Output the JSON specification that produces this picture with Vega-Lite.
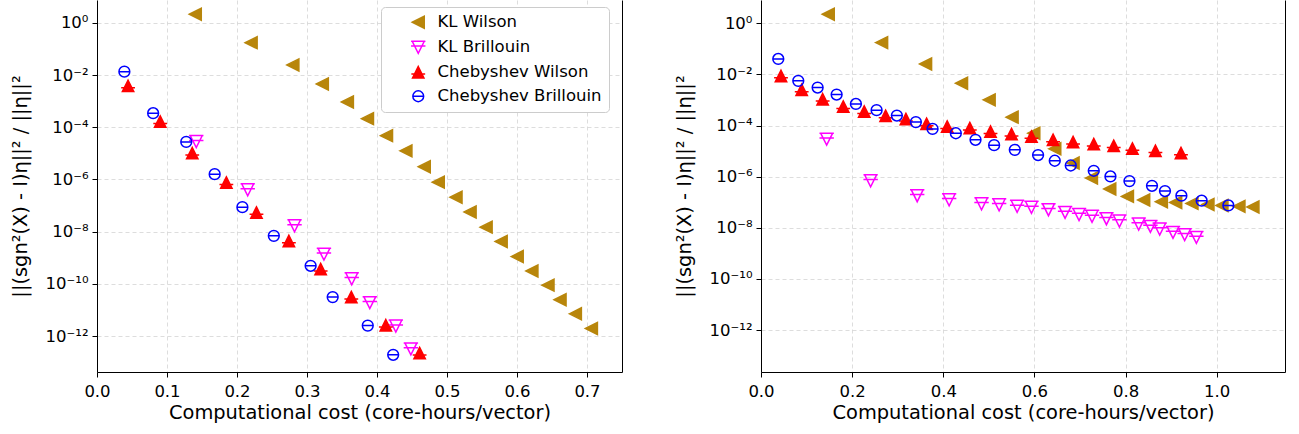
{
  "$schema": "https://vega.github.io/schema/vega-lite/v6.json",
  "background": "white",
  "padding": {"left": 10, "top": 0, "right": 5, "bottom": 5},
  "config": {
    "view": {"stroke": null},
    "font": "DejaVu Sans",
    "axis": {
      "domainColor": "black", "domainWidth": 1, "tickColor": "black", "tickWidth": 1, "tickSize": 5,
      "labelColor": "black", "labelFont": "DejaVu Sans", "labelFontSize": 16.5, "labelPadding": 4,
      "titleColor": "black", "titleFont": "DejaVu Sans", "titleFontSize": 19.4, "titleFontWeight": "normal",
      "gridColor": "#d4d4d4", "gridDash": [4, 3], "gridWidth": 0.8
    }
  },
  "datasets": {
    "left": [
      {"series": "KL Wilson", "cost": 0.1404, "error": 2.15},
      {"series": "KL Wilson", "cost": 0.2202, "error": 0.176},
      {"series": "KL Wilson", "cost": 0.2798, "error": 0.0246},
      {"series": "KL Wilson", "cost": 0.3219, "error": 0.0046},
      {"series": "KL Wilson", "cost": 0.3577, "error": 9.4e-4},
      {"series": "KL Wilson", "cost": 0.3864, "error": 2.15e-4},
      {"series": "KL Wilson", "cost": 0.4136, "error": 4.8e-5},
      {"series": "KL Wilson", "cost": 0.4413, "error": 1.25e-5},
      {"series": "KL Wilson", "cost": 0.4675, "error": 3.1e-6},
      {"series": "KL Wilson", "cost": 0.4875, "error": 7.9e-7},
      {"series": "KL Wilson", "cost": 0.5129, "error": 2.1e-7},
      {"series": "KL Wilson", "cost": 0.533, "error": 5.7e-8},
      {"series": "KL Wilson", "cost": 0.5559, "error": 1.49e-8},
      {"series": "KL Wilson", "cost": 0.5774, "error": 4.2e-9},
      {"series": "KL Wilson", "cost": 0.6003, "error": 1.11e-9},
      {"series": "KL Wilson", "cost": 0.6213, "error": 3.1e-10},
      {"series": "KL Wilson", "cost": 0.6443, "error": 8.9e-11},
      {"series": "KL Wilson", "cost": 0.6615, "error": 2.45e-11},
      {"series": "KL Wilson", "cost": 0.6834, "error": 7.1e-12},
      {"series": "KL Wilson", "cost": 0.7063, "error": 1.94e-12},
      {"series": "KL Brillouin", "cost": 0.1418, "error": 2.83e-5},
      {"series": "KL Brillouin", "cost": 0.2153, "error": 4.0e-7},
      {"series": "KL Brillouin", "cost": 0.2822, "error": 1.67e-8},
      {"series": "KL Brillouin", "cost": 0.3242, "error": 1.37e-9},
      {"series": "KL Brillouin", "cost": 0.3639, "error": 1.56e-10},
      {"series": "KL Brillouin", "cost": 0.3897, "error": 1.9e-11},
      {"series": "KL Brillouin", "cost": 0.4269, "error": 2.4e-12},
      {"series": "KL Brillouin", "cost": 0.4484, "error": 3.2e-13},
      {"series": "Chebyshev Wilson", "cost": 0.0444, "error": 3.86e-3},
      {"series": "Chebyshev Wilson", "cost": 0.0903, "error": 1.65e-4},
      {"series": "Chebyshev Wilson", "cost": 0.1361, "error": 1.02e-5},
      {"series": "Chebyshev Wilson", "cost": 0.1848, "error": 7.6e-7},
      {"series": "Chebyshev Wilson", "cost": 0.2278, "error": 5.4e-8},
      {"series": "Chebyshev Wilson", "cost": 0.2741, "error": 4.4e-9},
      {"series": "Chebyshev Wilson", "cost": 0.3195, "error": 3.66e-10},
      {"series": "Chebyshev Wilson", "cost": 0.3633, "error": 3.1e-11},
      {"series": "Chebyshev Wilson", "cost": 0.4126, "error": 2.6e-12},
      {"series": "Chebyshev Wilson", "cost": 0.4609, "error": 2.2e-13},
      {"series": "Chebyshev Brillouin", "cost": 0.0391, "error": 0.0136},
      {"series": "Chebyshev Brillouin", "cost": 0.0802, "error": 3.47e-4},
      {"series": "Chebyshev Brillouin", "cost": 0.1275, "error": 2.76e-5},
      {"series": "Chebyshev Brillouin", "cost": 0.1681, "error": 1.6e-6},
      {"series": "Chebyshev Brillouin", "cost": 0.2077, "error": 8.7e-8},
      {"series": "Chebyshev Brillouin", "cost": 0.2526, "error": 6.9e-9},
      {"series": "Chebyshev Brillouin", "cost": 0.3052, "error": 4.9e-10},
      {"series": "Chebyshev Brillouin", "cost": 0.3367, "error": 3.1e-11},
      {"series": "Chebyshev Brillouin", "cost": 0.3868, "error": 2.5e-12},
      {"series": "Chebyshev Brillouin", "cost": 0.4231, "error": 1.9e-13}
    ],
    "right": [
      {"series": "KL Wilson", "cost": 0.1476, "error": 2.25},
      {"series": "KL Wilson", "cost": 0.2647, "error": 0.175},
      {"series": "KL Wilson", "cost": 0.3612, "error": 0.0257},
      {"series": "KL Wilson", "cost": 0.4401, "error": 4.5e-3},
      {"series": "KL Wilson", "cost": 0.5007, "error": 1.01e-3},
      {"series": "KL Wilson", "cost": 0.5511, "error": 2.13e-4},
      {"series": "KL Wilson", "cost": 0.5987, "error": 5.0e-5},
      {"series": "KL Wilson", "cost": 0.6447, "error": 1.23e-5},
      {"series": "KL Wilson", "cost": 0.6849, "error": 3.4e-6},
      {"series": "KL Wilson", "cost": 0.7252, "error": 8.8e-7},
      {"series": "KL Wilson", "cost": 0.7654, "error": 3.3e-7},
      {"series": "KL Wilson", "cost": 0.8042, "error": 1.69e-7},
      {"series": "KL Wilson", "cost": 0.8399, "error": 1.22e-7},
      {"series": "KL Wilson", "cost": 0.8787, "error": 1.05e-7},
      {"series": "KL Wilson", "cost": 0.9101, "error": 9.8e-8},
      {"series": "KL Wilson", "cost": 0.9458, "error": 9.0e-8},
      {"series": "KL Wilson", "cost": 0.9809, "error": 8.2e-8},
      {"series": "KL Wilson", "cost": 1.0116, "error": 7.5e-8},
      {"series": "KL Wilson", "cost": 1.0489, "error": 6.9e-8},
      {"series": "KL Wilson", "cost": 1.0796, "error": 6.5e-8},
      {"series": "KL Brillouin", "cost": 0.1441, "error": 2.94e-5},
      {"series": "KL Brillouin", "cost": 0.2406, "error": 6.9e-7},
      {"series": "KL Brillouin", "cost": 0.3428, "error": 1.8e-7},
      {"series": "KL Brillouin", "cost": 0.4129, "error": 1.25e-7},
      {"series": "KL Brillouin", "cost": 0.484, "error": 8.7e-8},
      {"series": "KL Brillouin", "cost": 0.5226, "error": 8.0e-8},
      {"series": "KL Brillouin", "cost": 0.5621, "error": 6.9e-8},
      {"series": "KL Brillouin", "cost": 0.5936, "error": 6.3e-8},
      {"series": "KL Brillouin", "cost": 0.6309, "error": 5.1e-8},
      {"series": "KL Brillouin", "cost": 0.6673, "error": 4.0e-8},
      {"series": "KL Brillouin", "cost": 0.698, "error": 3.3e-8},
      {"series": "KL Brillouin", "cost": 0.7265, "error": 2.8e-8},
      {"series": "KL Brillouin", "cost": 0.7581, "error": 2.27e-8},
      {"series": "KL Brillouin", "cost": 0.7866, "error": 1.85e-8},
      {"series": "KL Brillouin", "cost": 0.8289, "error": 1.41e-8},
      {"series": "KL Brillouin", "cost": 0.8546, "error": 1.13e-8},
      {"series": "KL Brillouin", "cost": 0.875, "error": 9.0e-9},
      {"series": "KL Brillouin", "cost": 0.9042, "error": 6.6e-9},
      {"series": "KL Brillouin", "cost": 0.9298, "error": 5.4e-9},
      {"series": "KL Brillouin", "cost": 0.9555, "error": 4.2e-9},
      {"series": "Chebyshev Wilson", "cost": 0.0439, "error": 8.7e-3},
      {"series": "Chebyshev Wilson", "cost": 0.0893, "error": 2.48e-3},
      {"series": "Chebyshev Wilson", "cost": 0.1353, "error": 1.07e-3},
      {"series": "Chebyshev Wilson", "cost": 0.1805, "error": 5.5e-4},
      {"series": "Chebyshev Wilson", "cost": 0.2265, "error": 3.5e-4},
      {"series": "Chebyshev Wilson", "cost": 0.2735, "error": 2.39e-4},
      {"series": "Chebyshev Wilson", "cost": 0.318, "error": 1.78e-4},
      {"series": "Chebyshev Wilson", "cost": 0.3634, "error": 1.16e-4},
      {"series": "Chebyshev Wilson", "cost": 0.4086, "error": 9.1e-5},
      {"series": "Chebyshev Wilson", "cost": 0.4583, "error": 7.9e-5},
      {"series": "Chebyshev Wilson", "cost": 0.5037, "error": 5.8e-5},
      {"series": "Chebyshev Wilson", "cost": 0.5498, "error": 4.6e-5},
      {"series": "Chebyshev Wilson", "cost": 0.5936, "error": 3.7e-5},
      {"series": "Chebyshev Wilson", "cost": 0.641, "error": 2.76e-5},
      {"series": "Chebyshev Wilson", "cost": 0.6849, "error": 2.25e-5},
      {"series": "Chebyshev Wilson", "cost": 0.7303, "error": 1.88e-5},
      {"series": "Chebyshev Wilson", "cost": 0.7741, "error": 1.61e-5},
      {"series": "Chebyshev Wilson", "cost": 0.8151, "error": 1.26e-5},
      {"series": "Chebyshev Wilson", "cost": 0.8656, "error": 1.03e-5},
      {"series": "Chebyshev Wilson", "cost": 0.9217, "error": 8.4e-6},
      {"series": "Chebyshev Brillouin", "cost": 0.0379, "error": 0.0403},
      {"series": "Chebyshev Brillouin", "cost": 0.0818, "error": 5.6e-3},
      {"series": "Chebyshev Brillouin", "cost": 0.1243, "error": 3.05e-3},
      {"series": "Chebyshev Brillouin", "cost": 0.166, "error": 1.63e-3},
      {"series": "Chebyshev Brillouin", "cost": 0.2083, "error": 7.0e-4},
      {"series": "Chebyshev Brillouin", "cost": 0.2537, "error": 4.0e-4},
      {"series": "Chebyshev Brillouin", "cost": 0.2982, "error": 2.46e-4},
      {"series": "Chebyshev Brillouin", "cost": 0.3399, "error": 1.36e-4},
      {"series": "Chebyshev Brillouin", "cost": 0.3765, "error": 7.4e-5},
      {"series": "Chebyshev Brillouin", "cost": 0.4276, "error": 5.0e-5},
      {"series": "Chebyshev Brillouin", "cost": 0.4708, "error": 2.76e-5},
      {"series": "Chebyshev Brillouin", "cost": 0.5116, "error": 1.71e-5},
      {"series": "Chebyshev Brillouin", "cost": 0.557, "error": 1.12e-5},
      {"series": "Chebyshev Brillouin", "cost": 0.6081, "error": 7.0e-6},
      {"series": "Chebyshev Brillouin", "cost": 0.6447, "error": 4.2e-6},
      {"series": "Chebyshev Brillouin", "cost": 0.6798, "error": 2.74e-6},
      {"series": "Chebyshev Brillouin", "cost": 0.7303, "error": 1.7e-6},
      {"series": "Chebyshev Brillouin", "cost": 0.7669, "error": 1.02e-6},
      {"series": "Chebyshev Brillouin", "cost": 0.8086, "error": 6.7e-7},
      {"series": "Chebyshev Brillouin", "cost": 0.8581, "error": 4.4e-7},
      {"series": "Chebyshev Brillouin", "cost": 0.8866, "error": 2.74e-7},
      {"series": "Chebyshev Brillouin", "cost": 0.9226, "error": 1.8e-7},
      {"series": "Chebyshev Brillouin", "cost": 0.9671, "error": 1.15e-7},
      {"series": "Chebyshev Brillouin", "cost": 1.0257, "error": 7.5e-8}
    ]
  },
  "spacing": 139,
  "bounds": "flush",
  "resolve": {"scale": {"shape": "independent", "fill": "independent", "stroke": "independent"}, "legend": {"shape": "independent", "fill": "independent", "stroke": "independent"}},
  "hconcat": [
    {
      "width": 525,
      "height": 372,
      "data": {"name": "left"},
      "resolve": {"axis": {"y": "independent"}},
      "layer": [
        {
          "mark": {"type": "point", "opacity": 1, "strokeWidth": 1.5, "size": 144},
          "encoding": {
            "x": {"field": "cost", "type": "quantitative",
              "scale": {"domain": [0, 0.75], "nice": false, "zero": false},
              "axis": {"values": [0, 0.1, 0.2, 0.3, 0.4, 0.5, 0.6, 0.7], "format": ".1f", "labelFlush": false, "labelOverlap": false, "labelPadding": 6, "title": "Computational cost (core-hours/vector)", "titlePadding": 4}},
            "y": {"field": "error", "type": "quantitative",
              "scale": {"type": "log", "domain": [4.17e-14, 7.59], "nice": false},
              "axis": {"values": [1, 1e-2, 1e-4, 1e-6, 1e-8, 1e-10, 1e-12], "labelExpr": "['10⁰','10⁻¹','10⁻²','10⁻³','10⁻⁴','10⁻⁵','10⁻⁶','10⁻⁷','10⁻⁸','10⁻⁹','10⁻¹⁰','10⁻¹¹','10⁻¹²','10⁻¹³'][round(-log(datum.value)/LN10)]", "labelFlush": false, "labelOverlap": false, "title": "||(sgn²(X) - I)η||² / ||η||²", "titlePadding": 15}},
            "shape": {"field": "series", "type": "nominal",
              "scale": {"domain": ["KL Wilson", "KL Brillouin", "Chebyshev Wilson", "Chebyshev Brillouin"],
                "range": ["M-1,0L1,-1L1,1Z", "M-1,-1L1,-1L0,1Z M-1.2,-1L1.2,-1 M-1.2,-0.2L1.2,-0.2", "M0,-0.95L0.95,0.95L-0.95,0.95Z M-1.15,0.3L1.15,0.3", "M0.9,0A0.9,0.9,0,1,1,-0.9,0A0.9,0.9,0,1,1,0.9,0Z M-1,0L1,0"]},
              "legend": {"orient": "none", "legendX": 284, "legendY": 7, "title": null, "labelFont": "DejaVu Sans", "labelFontSize": 16.5, "labelColor": "black", "labelLimit": 400, "symbolSize": 144, "symbolStrokeWidth": 1.5, "padding": 7, "rowPadding": 6, "labelOffset": 11, "symbolOffset": 22, "strokeColor": "#cccccc", "fillColor": "white", "cornerRadius": 4, "encode": {"symbols": {"update": {"x": {"value": 18}}}}}},
            "stroke": {"field": "series", "type": "nominal",
              "scale": {"domain": ["KL Wilson", "KL Brillouin", "Chebyshev Wilson", "Chebyshev Brillouin"], "range": ["#B8860B", "#FF00FF", "#FF0000", "#0000FF"]},
              "legend": {"orient": "none", "legendX": 284, "legendY": 7, "title": null, "labelFont": "DejaVu Sans", "labelFontSize": 16.5, "labelColor": "black", "labelLimit": 400, "symbolSize": 144, "symbolStrokeWidth": 1.5, "padding": 7, "rowPadding": 6, "labelOffset": 11, "symbolOffset": 22, "strokeColor": "#cccccc", "fillColor": "white", "cornerRadius": 4, "encode": {"symbols": {"update": {"x": {"value": 18}}}}}},
            "fill": {"field": "series", "type": "nominal",
              "scale": {"domain": ["KL Wilson", "KL Brillouin", "Chebyshev Wilson", "Chebyshev Brillouin"], "range": ["#B8860B", "transparent", "#FF0000", "transparent"]},
              "legend": {"orient": "none", "legendX": 284, "legendY": 7, "title": null, "labelFont": "DejaVu Sans", "labelFontSize": 16.5, "labelColor": "black", "labelLimit": 400, "symbolSize": 144, "symbolStrokeWidth": 1.5, "padding": 7, "rowPadding": 6, "labelOffset": 11, "symbolOffset": 22, "strokeColor": "#cccccc", "fillColor": "white", "cornerRadius": 4, "encode": {"symbols": {"update": {"x": {"value": 18}}}}}}
          }
        },
        {
          "mark": {"type": "point", "opacity": 0},
          "encoding": {
            "x": {"field": "cost", "type": "quantitative"},
            "y": {"field": "error", "type": "quantitative", "axis": {"orient": "right", "labels": false, "ticks": false, "grid": false, "domain": true, "title": null}}
          }
        }
      ]
    },
    {
      "width": 524,
      "height": 372,
      "data": {"name": "right"},
      "resolve": {"axis": {"y": "independent"}},
      "layer": [
        {
          "mark": {"type": "point", "opacity": 1, "strokeWidth": 1.5, "size": 144},
          "encoding": {
            "x": {"field": "cost", "type": "quantitative",
              "scale": {"domain": [0, 1.15], "nice": false, "zero": false},
              "axis": {"values": [0, 0.2, 0.4, 0.6, 0.8, 1.0], "format": ".1f", "labelFlush": false, "labelOverlap": false, "labelPadding": 6, "title": "Computational cost (core-hours/vector)", "titlePadding": 4}},
            "y": {"field": "error", "type": "quantitative",
              "scale": {"type": "log", "domain": [2.29e-14, 8.13], "nice": false},
              "axis": {"values": [1, 1e-2, 1e-4, 1e-6, 1e-8, 1e-10, 1e-12], "labelExpr": "['10⁰','10⁻¹','10⁻²','10⁻³','10⁻⁴','10⁻⁵','10⁻⁶','10⁻⁷','10⁻⁸','10⁻⁹','10⁻¹⁰','10⁻¹¹','10⁻¹²','10⁻¹³'][round(-log(datum.value)/LN10)]", "labelFlush": false, "labelOverlap": false, "title": "||(sgn²(X) - I)η||² / ||η||²", "titlePadding": 15}},
            "shape": {"field": "series", "type": "nominal",
              "scale": {"domain": ["KL Wilson", "KL Brillouin", "Chebyshev Wilson", "Chebyshev Brillouin"],
                "range": ["M-1,0L1,-1L1,1Z", "M-1,-1L1,-1L0,1Z M-1.2,-1L1.2,-1 M-1.2,-0.2L1.2,-0.2", "M0,-0.95L0.95,0.95L-0.95,0.95Z M-1.15,0.3L1.15,0.3", "M0.9,0A0.9,0.9,0,1,1,-0.9,0A0.9,0.9,0,1,1,0.9,0Z M-1,0L1,0"]},
              "legend": null},
            "stroke": {"field": "series", "type": "nominal",
              "scale": {"domain": ["KL Wilson", "KL Brillouin", "Chebyshev Wilson", "Chebyshev Brillouin"], "range": ["#B8860B", "#FF00FF", "#FF0000", "#0000FF"]},
              "legend": null},
            "fill": {"field": "series", "type": "nominal",
              "scale": {"domain": ["KL Wilson", "KL Brillouin", "Chebyshev Wilson", "Chebyshev Brillouin"], "range": ["#B8860B", "transparent", "#FF0000", "transparent"]},
              "legend": null}
          }
        },
        {
          "mark": {"type": "point", "opacity": 0},
          "encoding": {
            "x": {"field": "cost", "type": "quantitative"},
            "y": {"field": "error", "type": "quantitative", "axis": {"orient": "right", "labels": false, "ticks": false, "grid": false, "domain": true, "title": null}}
          }
        }
      ]
    }
  ]
}
